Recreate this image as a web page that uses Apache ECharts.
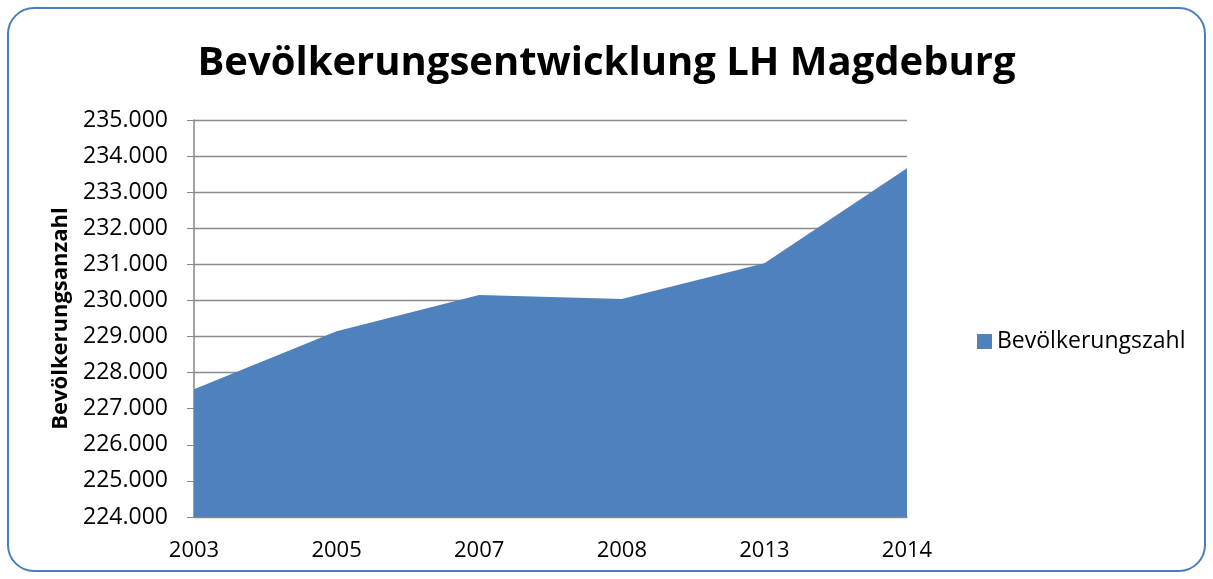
<!DOCTYPE html>
<html>
<head>
<meta charset="utf-8">
<script src="https://cdn.jsdelivr.net/npm/echarts@6/dist/echarts.min.js"></script>
<style>
  html, body { margin: 0; padding: 0; background: #fff; }
  #main { width: 1213px; height: 579px; }
</style>
</head>
<body>
<div id="main"></div>
<script>
var years = ['2003', '2005', '2007', '2008', '2013', '2014'];
var population = [227540, 229150, 230150, 230040, 231030, 233660];
var seriesName = 'Bevölkerungszahl';

var chart = echarts.init(document.getElementById('main'));
var font = 'Open Sans, Noto Sans, sans-serif';

var option = {
    backgroundColor: '#fff',
    animation: false,
    title: {
        text: 'Bevölkerungsentwicklung LH Magdeburg',
        left: 'center',
        top: 39,
        textStyle: { fontFamily: font, fontSize: 40, fontWeight: 'bold', color: '#000' }
    },
    legend: {
        data: [seriesName],
        orient: 'vertical',
        left: 972,
        top: 325,
        itemWidth: 15,
        itemHeight: 15,
        itemGap: 6,
        icon: 'rect',
        textStyle: { fontFamily: font, fontSize: 23, color: '#000' }
    },
    grid: { left: 194, right: 306, top: 120, bottom: 62 },
    xAxis: {
        type: 'category',
        data: years,
        boundaryGap: false,
        axisLine: { lineStyle: { color: '#868686', width: 1.5 } },
        axisTick: { show: false },
        axisLabel: { fontFamily: font, fontSize: 22, color: '#000', margin: 23 }
    },
    yAxis: {
        type: 'value',
        min: 224000,
        max: 235000,
        interval: 1000,
        name: 'Bevölkerungsanzahl',
        nameLocation: 'middle',
        nameGap: 119,
        nameTextStyle: { fontFamily: font, fontSize: 22, fontWeight: 'bold', color: '#000' },
        axisLine: { show: true, lineStyle: { color: '#868686', width: 1.5 } },
        axisTick: { show: true, length: 7, lineStyle: { color: '#868686' } },
        splitLine: { lineStyle: { color: '#8a8a8a', width: 1.3 } },
        axisLabel: {
            fontFamily: font, fontSize: 23, color: '#000', margin: 26,
            formatter: function (v) {
                return (v / 1000).toFixed(3);
            }
        }
    },
    series: [{
        name: seriesName,
        type: 'line',
        data: population,
        symbol: 'none',
        lineStyle: { width: 0 },
        itemStyle: { color: '#4f81bd' },
        areaStyle: { color: '#4f81bd', opacity: 1, origin: 'start' }
    }],
    graphic: [{
        type: 'rect',
        shape: { x: 8, y: 8, width: 1197, height: 563, r: 26 },
        style: { fill: null, stroke: '#4a7ebb', lineWidth: 2 },
        z: 100
    }]
};

chart.setOption(option);
</script>
</body>
</html>
